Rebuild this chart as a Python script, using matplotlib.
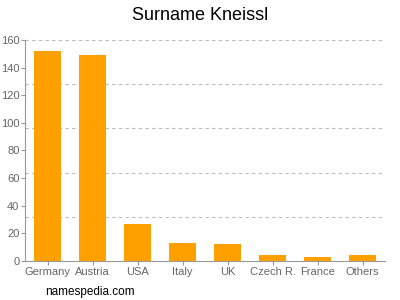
import matplotlib
matplotlib.use('Agg')
import matplotlib.pyplot as plt
import numpy as np

plt.rcParams['font.family'] = ['Liberation Sans', 'DejaVu Sans']

# data
countries = ['Germany', 'Austria', 'USA', 'Italy', 'UK', 'Czech R.', 'France', 'Others']
counts = [152, 149, 27, 13, 12, 4, 3, 4]
y_ticks = [0, 20, 40, 60, 80, 100, 120, 140, 160]
grid_levels = [32, 64, 96, 128, 160]

fig = plt.figure(figsize=(4, 3), dpi=100)
ax = fig.add_axes([0.0625, 0.13, 0.9, 0.7367])

x = np.arange(len(countries))
ax.bar(x, counts, width=0.62, color='#ffa000', zorder=3)

# dashed grid lines (not on the tick values)
for g in grid_levels:
    ax.axhline(g, color='#bbbbbb', linestyle=(0, (3, 3)), linewidth=0.8, zorder=1)

ax.set_xlim(-0.5, len(countries) - 0.5)
ax.set_ylim(0, 160)
ax.set_yticks(y_ticks)
ax.set_xticks(x)
ax.set_xticklabels(countries)

for s in ['top', 'right']:
    ax.spines[s].set_visible(False)
for s in ['left', 'bottom']:
    ax.spines[s].set_color('#999999')
    ax.spines[s].set_linewidth(0.8)
ax.tick_params(axis='both', colors='#999999', labelcolor='#666666', labelsize=8, length=3, width=0.8, pad=1)

fig.text(0.5, 0.95, 'Surname Kneissl', ha='center', va='center', fontsize=13)
fig.text(0.112, 0.027, 'namespedia.com', ha='left', va='center', fontsize=8.5)

fig.savefig('out.png', dpi=100)
